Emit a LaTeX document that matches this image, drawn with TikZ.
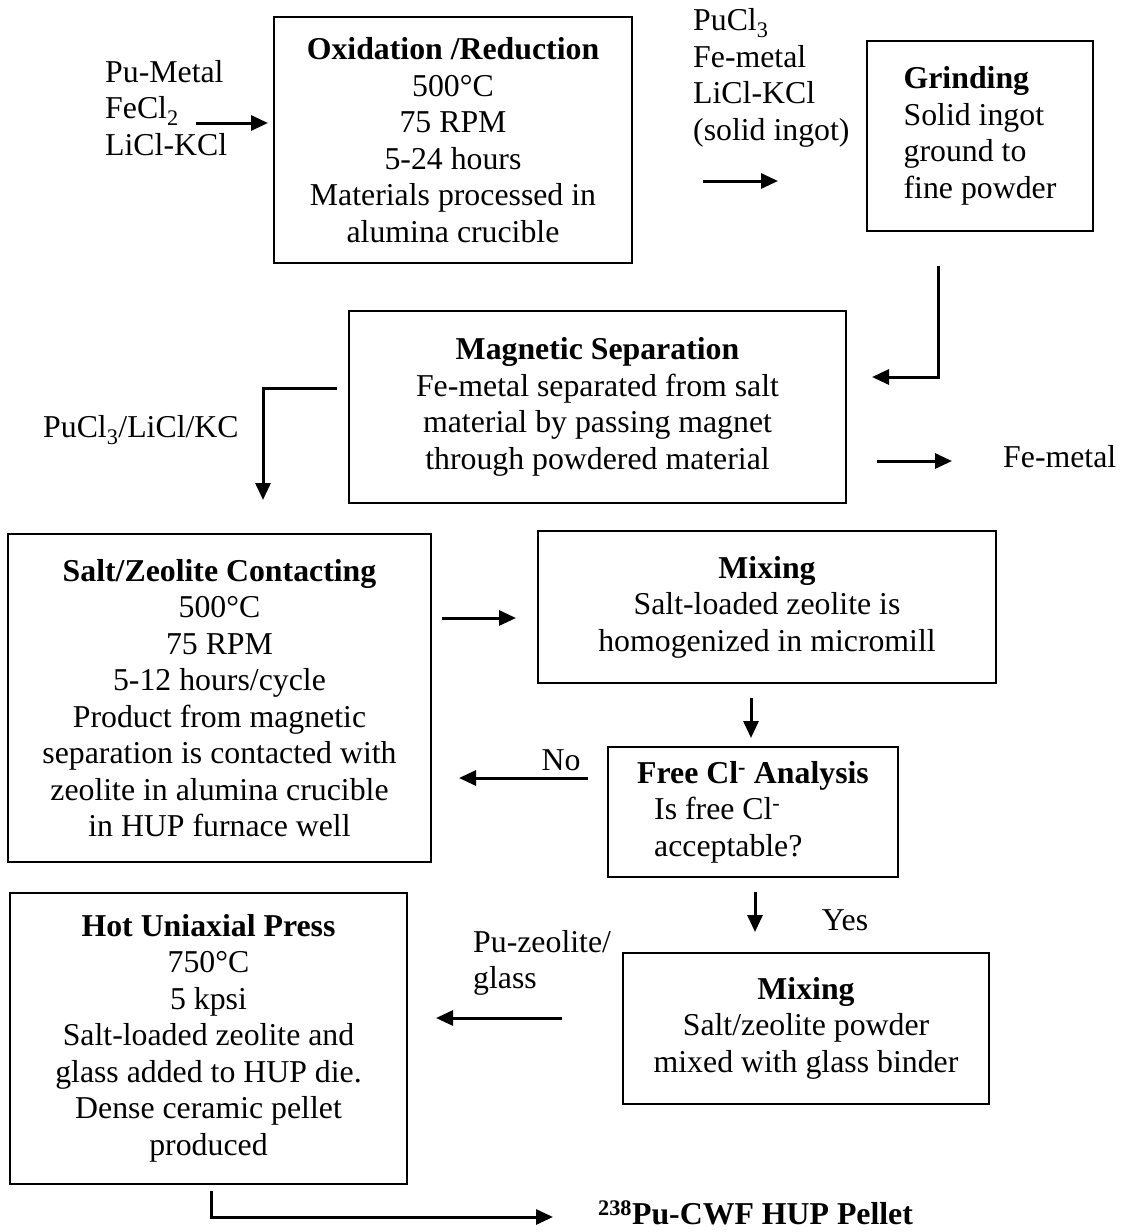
\documentclass[tikz,border=0pt]{standalone}
\usepackage{fontspec}
\setmainfont{Liberation Serif}
\usetikzlibrary{positioning,arrows.meta,calc}

\begin{document}
\begin{tikzpicture}
  [
      x=1pt, y=-1pt,
      font=\fontsize{31.8}{36.5}\selectfont,
      my box/.style={draw, line width=2pt, align=center, inner sep=0pt},
      my label/.style={inner sep=0pt, align=left},
      my arrow/.style={line width=3pt, -{Triangle[length=17pt, width=15pt]}}
    ]
    \useasboundingbox (0,0) rectangle (1120,1232);
    % process boxes
    \node (ox) [my box, minimum width=358pt, minimum height=246pt] at (453,140)
      {\textbf{Oxidation /Reduction}\\500°C\\75 RPM\\5-24 hours\\Materials processed in\\alumina crucible};
    \node (grind) [my box, align=left, minimum width=226pt, minimum height=190pt] at (980,136)
      {\textbf{Grinding}\\Solid ingot\\ground to\\fine powder};
    \node (mag) [my box, minimum width=497pt, minimum height=192pt] at (597.5,407)
      {\textbf{Magnetic Separation}\\Fe-metal separated from salt\\material by passing magnet\\through powdered material};
    \node (salt) [my box, minimum width=423pt, minimum height=328pt] at (219.5,698)
      {\textbf{Salt/Zeolite Contacting}\\500°C\\75 RPM\\5-12 hours/cycle\\Product from magnetic\\separation is contacted with\\zeolite in alumina crucible\\in HUP furnace well};
    \node (mix1) [my box, minimum width=458pt, minimum height=152pt] at (767,607)
      {\textbf{Mixing}\\Salt-loaded zeolite is\\homogenized in micromill};
    \node (cl) [my box, align=left, minimum width=290pt, minimum height=130pt] at (753,812)
      {\textbf{Free Cl\textsuperscript{-} Analysis}\\\hspace*{17pt}Is free Cl\textsuperscript{-}\\\hspace*{17pt}acceptable?};
    \node (mix2) [my box, minimum width=366pt, minimum height=151pt] at (806,1028)
      {\textbf{Mixing}\\Salt/zeolite powder\\mixed with glass binder};
    \node (hup) [my box, minimum width=397pt, minimum height=291pt] at (208.5,1038)
      {\textbf{Hot Uniaxial Press}\\750°C\\5 kpsi\\Salt-loaded zeolite and\\glass added to HUP die.\\Dense ceramic pellet\\produced};
    % stream labels
    \node (feed) [my label, anchor=west] at (105,108) {Pu-Metal\\FeCl\textsubscript{2}\\LiCl-KCl};
    \node (ingot) [my label, anchor=west] at (693,78) {PuCl\textsubscript{3}\\Fe-metal\\LiCl-KCl\\(solid ingot)};
    \node (chloride) [my label, anchor=west] at (43,430) {PuCl\textsubscript{3}/LiCl/KC};
    \node (femetal) [my label, anchor=west] at (1003,457) {Fe-metal};
    \node (no) [my label] at (561,760) {No};
    \node (yes) [my label] at (845,920) {Yes};
    \node (glass) [my label, anchor=west] at (473,963) {Pu-zeolite/\\glass};
    \node (pellet) [my label, anchor=west] at (598,1213) {\textbf{\textsuperscript{238}Pu-CWF HUP Pellet}};
    % arrow ends
    \coordinate (p1) at (196,123);   \coordinate (q1) at (268,123);
    \coordinate (p2) at (703,181);   \coordinate (q2) at (778,181);
    \coordinate (p3) at (938,266);   \coordinate (q3) at (872,377);
    \coordinate (p4) at (337,388);   \coordinate (q4) at (263,500);
    \coordinate (p5) at (877,461);   \coordinate (q5) at (952,461);
    \coordinate (p6) at (442,618);   \coordinate (q6) at (516,618);
    \coordinate (p7) at (751,698);   \coordinate (q7) at (751,738);
    \coordinate (p8) at (588,778);   \coordinate (q8) at (459,778);
    \coordinate (p9) at (755,892);   \coordinate (q9) at (755,932);
    \coordinate (p10) at (562,1018); \coordinate (q10) at (436,1018);
    \coordinate (p11) at (211,1191); \coordinate (q11) at (553,1217);
    \foreach \i/\j in {p1/q1,p2/q2,p5/q5,p6/q6,p7/q7,p8/q8,p9/q9,p10/q10}
      \draw [my arrow] (\i) -- (\j);
    \draw [my arrow] (p3) |- (q3);
    \draw [my arrow] (p4) -| (q4);
    \draw [my arrow] (p11) |- (q11);
  \end{tikzpicture}
\end{document}
